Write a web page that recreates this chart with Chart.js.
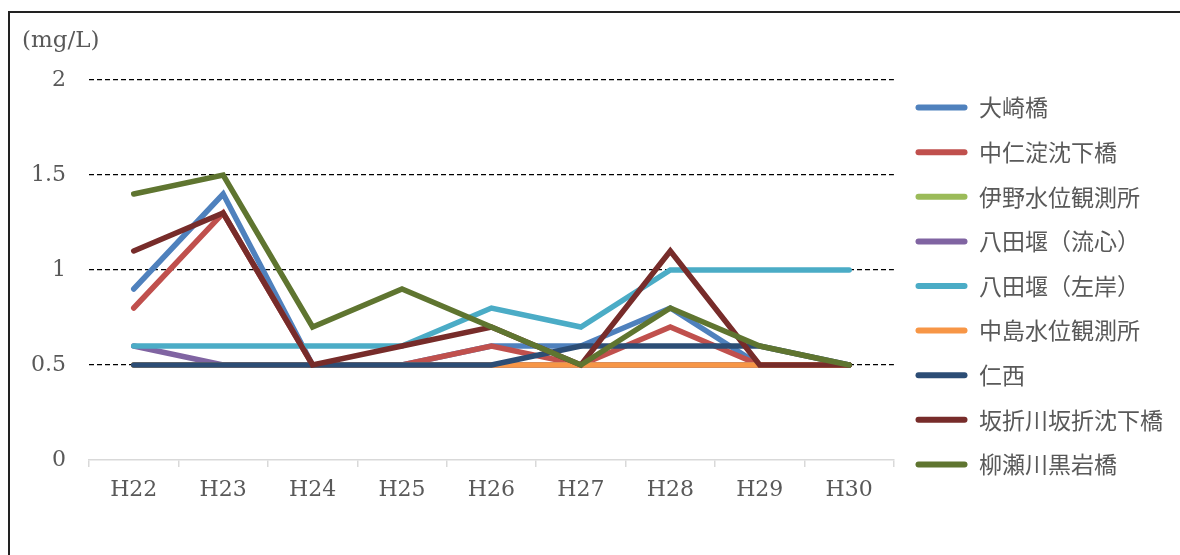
<!DOCTYPE html>
<html>
<head>
<meta charset="utf-8">
<script src="https://cdn.jsdelivr.net/npm/chart.js@4"></script>
<style>
  body { margin: 0; background: #fff; }
  #frame { position: absolute; left: 8px; top: 11px; width: 1180px; height: 560px;
           border-left: 2px solid #222; border-top: 2px solid #222; }
  #wrap { position: absolute; left: 0; top: 0; width: 1180px; height: 555px; }
</style>
</head>
<body>
<div id="frame"></div>
<div id="wrap"><canvas id="chart"></canvas></div>
<script>
// years on the x axis
const years = ['H22', 'H23', 'H24', 'H25', 'H26', 'H27', 'H28', 'H29', 'H30'];

// one array per sampling site (mg/L)
const osakiBashi     = [0.9, 1.4, 0.5, 0.5, 0.6, 0.6, 0.8, 0.5, 0.5];
const nakaniyodo     = [0.8, 1.3, 0.5, 0.5, 0.6, 0.5, 0.7, 0.5, 0.5];
const inoSuii        = [0.5, 0.5, 0.5, 0.5, 0.5, 0.5, 0.5, 0.5, 0.5];
const hattaRyushin   = [0.6, 0.5, 0.5, 0.5, 0.5, 0.5, 0.5, 0.5, 0.5];
const hattaSagan     = [0.6, 0.6, 0.6, 0.6, 0.8, 0.7, 1.0, 1.0, 1.0];
const nakajimaSuii   = [0.5, 0.5, 0.5, 0.5, 0.5, 0.5, 0.5, 0.5, 0.5];
const nishi          = [0.5, 0.5, 0.5, 0.5, 0.5, 0.6, 0.6, 0.6, 0.5];
const sakaoriChinka  = [1.1, 1.3, 0.5, 0.6, 0.7, 0.5, 1.1, 0.5, 0.5];
const kuroiwaBashi   = [1.4, 1.5, 0.7, 0.9, 0.7, 0.5, 0.8, 0.6, 0.5];

const siteNames = ['大崎橋', '中仁淀沈下橋', '伊野水位観測所', '八田堰（流心）', '八田堰（左岸）',
                   '中島水位観測所', '仁西', '坂折川坂折沈下橋', '柳瀬川黒岩橋'];
const siteValues = [osakiBashi, nakaniyodo, inoSuii, hattaRyushin, hattaSagan,
                    nakajimaSuii, nishi, sakaoriChinka, kuroiwaBashi];
const siteColors = ['#4F81BD', '#C0504D', '#9BBB59', '#8064A2', '#4BACC6',
                    '#F79646', '#2C4D75', '#772C2A', '#5F7530'];

const yTicks = [0, 0.5, 1, 1.5, 2];

const serif = '"DejaVu Serif", serif';
const gothic = '"Noto Sans CJK JP", "Noto Sans", sans-serif';
const textGray = '#595959';

// unit label at the top-left, like the Excel chart
const unitLabel = {
  id: 'unitLabel',
  afterLayout(chart) {
    // nudge the legend block up a little so it sits like the original
    chart.legend.top -= 14;
    chart.legend.bottom -= 14;
  },
  afterDraw(chart) {
    const ctx = chart.ctx;
    ctx.save();
    ctx.font = '23px ' + serif;
    ctx.fillStyle = textGray;
    ctx.textBaseline = 'middle';
    ctx.fillText('(mg/L)', 22, 41);
    ctx.restore();
  }
};

const ctx = document.getElementById('chart').getContext('2d');
new Chart(ctx, {
  type: 'line',
  data: {
    labels: years,
    datasets: siteNames.map((name, i) => ({
      label: name,
      data: siteValues[i],
      borderColor: siteColors[i],
      backgroundColor: siteColors[i],
      borderWidth: 5.5,
      borderCapStyle: 'round',
      pointRadius: 0,
      tension: 0,
      order: siteNames.length - i // later series drawn on top
    }))
  },
  options: {
    responsive: true,
    maintainAspectRatio: false,
    animation: false,
    layout: { padding: { left: 0, top: 80, right: 7, bottom: 35 } },
    scales: {
      x: {
        offset: true,
        grid: { offset: true, drawOnChartArea: false, drawTicks: true, tickLength: 7, color: '#D9D9D9', lineWidth: 1.5 },
        border: { color: '#D9D9D9', width: 1.5 },
        ticks: { font: { family: serif, size: 22 }, color: textGray, padding: 10, maxRotation: 0 },
        afterFit(scale) { scale.height = 60; }
      },
      y: {
        min: 0,
        max: 2,
        afterBuildTicks(scale) { scale.ticks = yTicks.map(v => ({ value: v })); },
        grid: {
          drawTicks: false,
          color: c => c.tick && c.tick.value === 0 ? 'rgba(0,0,0,0)' : '#000',
          lineWidth: 1.3
        },
        border: { display: false, dash: [5, 3] },
        ticks: { font: { family: serif, size: 22 }, color: textGray, padding: 23, callback: v => String(v) },
        afterFit(scale) { scale.width = 89; }
      }
    },
    plugins: {
      legend: {
        position: 'right',
        align: 'center',
        labels: {
          font: { family: gothic, size: 23 },
          color: textGray,
          boxWidth: 52,
          boxHeight: 6,
          padding: 21.6,
          useBorderRadius: true,
          borderRadius: 3,
          generateLabels(chart) {
            return Chart.defaults.plugins.legend.labels.generateLabels(chart)
              .map(l => Object.assign(l, { lineWidth: 0, borderRadius: 3 }))
              .sort((a, b) => a.datasetIndex - b.datasetIndex);
          }
        }
      },
      tooltip: { enabled: false }
    }
  },
  plugins: [unitLabel]
});
</script>
</body>
</html>
